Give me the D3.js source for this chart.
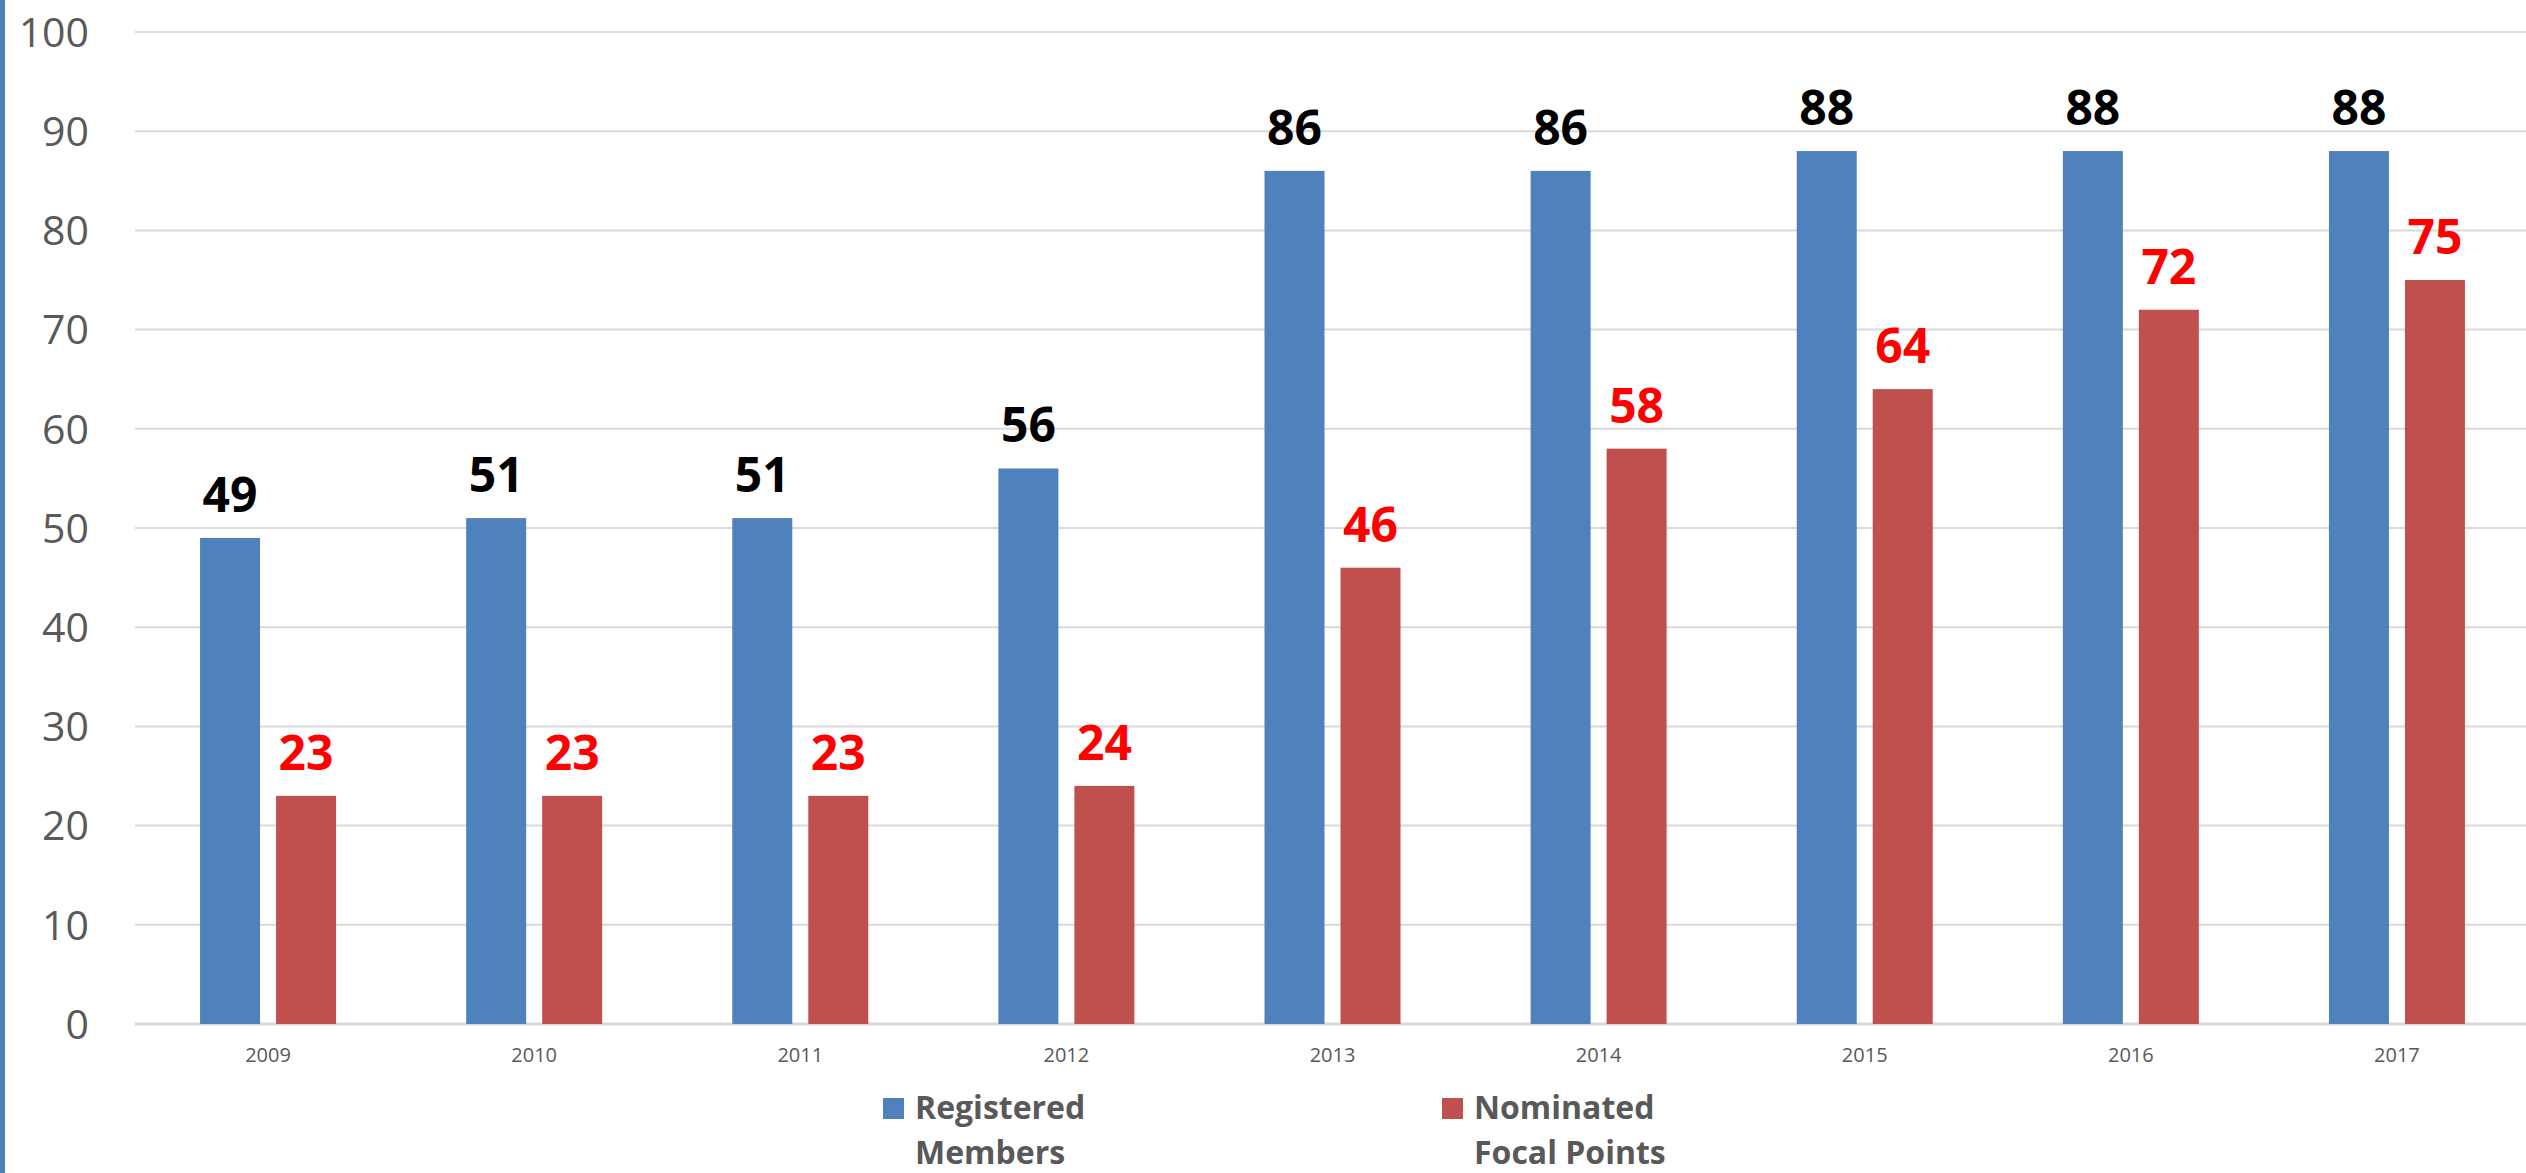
<!DOCTYPE html>
<html>
<head>
<meta charset="utf-8">
<script src="https://cdn.jsdelivr.net/npm/d3@7"></script>
<style>
    body { margin: 0; background: #fff; }
    svg text { font-family: "Open Sans", "Noto Sans", sans-serif; }
</style>
</head>
<body>
<div id="chart"></div>
<script>
var years = ["2009", "2010", "2011", "2012", "2013", "2014", "2015", "2016", "2017"];
var registered = [49, 51, 51, 56, 86, 86, 88, 88, 88];
var nominated = [23, 23, 23, 24, 46, 58, 64, 72, 75];
var yTicks = [0, 10, 20, 30, 40, 50, 60, 70, 80, 90, 100];
var seriesNames = [["Registered", "Members"], ["Nominated", "Focal Points"]];

var width = 2526,
    height = 1173;

var colors = ["#4f81bd", "#c0504d"],
    labelColors = ["#000000", "#ff0000"];

var svg = d3.select("#chart").append("svg")
    .attr("width", width)
    .attr("height", height);

// left edge stripe
svg.append("rect")
    .attr("x", 0).attr("y", 0)
    .attr("width", 5).attr("height", height)
    .attr("fill", "#4f81bd");

var x = d3.scaleBand()
    .domain(years)
    .range([135, 2530]);

var y = d3.scaleLinear()
    .domain([0, 100])
    .range([1024, 32]);

var barW = 60, gap = 16;

// gridlines
svg.append("g").selectAll("line")
    .data(yTicks)
    .enter().append("line")
    .attr("x1", 135).attr("x2", width)
    .attr("y1", function(d) { return y(d); })
    .attr("y2", function(d) { return y(d); })
    .attr("stroke", "#d9d9d9")
    .attr("stroke-width", function(d) { return d === 0 ? 3 : 2; });

// y tick labels
svg.append("g").selectAll("text")
    .data(yTicks)
    .enter().append("text")
    .attr("x", 89)
    .attr("y", function(d) { return y(d); })
    .attr("dy", "0.36em")
    .attr("text-anchor", "end")
    .attr("font-size", 41)
    .attr("fill", "#595959")
    .text(function(d) { return d; });

// x labels
svg.append("g").selectAll("text")
    .data(years)
    .enter().append("text")
    .attr("x", function(d) { return x(d) + x.bandwidth() / 2; })
    .attr("y", 1062)
    .attr("text-anchor", "middle")
    .attr("font-size", 20)
    .attr("fill", "#595959")
    .text(function(d) { return d; });

var series = [registered, nominated];

series.forEach(function(vals, s) {
    var offset = s === 0 ? -(barW + gap / 2) : gap / 2;
    var g = svg.append("g");

    g.selectAll("rect")
        .data(vals)
        .enter().append("rect")
        .attr("x", function(d, i) { return x(years[i]) + x.bandwidth() / 2 + offset; })
        .attr("y", function(d) { return y(d); })
        .attr("width", barW)
        .attr("height", function(d) { return y(0) - y(d); })
        .attr("fill", colors[s]);

    g.selectAll("text")
        .data(vals)
        .enter().append("text")
        .attr("x", function(d, i) { return x(years[i]) + x.bandwidth() / 2 + offset + barW / 2; })
        .attr("y", function(d) { return y(d) - 26; })
        .attr("text-anchor", "middle")
        .attr("font-size", 48)
        .attr("font-weight", "bold")
        .attr("fill", labelColors[s])
        .text(function(d) { return d; });
});

// legend
var legendX = [883, 1442];
var legend = svg.append("g").selectAll("g")
    .data(seriesNames)
    .enter().append("g")
    .attr("transform", function(d, i) { return "translate(" + legendX[i] + ",0)"; });

legend.append("rect")
    .attr("x", 0).attr("y", 1098)
    .attr("width", 21).attr("height", 21)
    .attr("fill", function(d, i) { return colors[i]; });

legend.each(function(d) {
    var t = d3.select(this).append("text")
        .attr("x", 32)
        .attr("y", 1119)
        .attr("font-size", 32)
        .attr("font-weight", "bold")
        .attr("fill", "#595959");
    d.forEach(function(line, k) {
        t.append("tspan")
            .attr("x", 32)
            .attr("dy", k === 0 ? 0 : 45)
            .text(line);
    });
});
</script>
</body>
</html>
